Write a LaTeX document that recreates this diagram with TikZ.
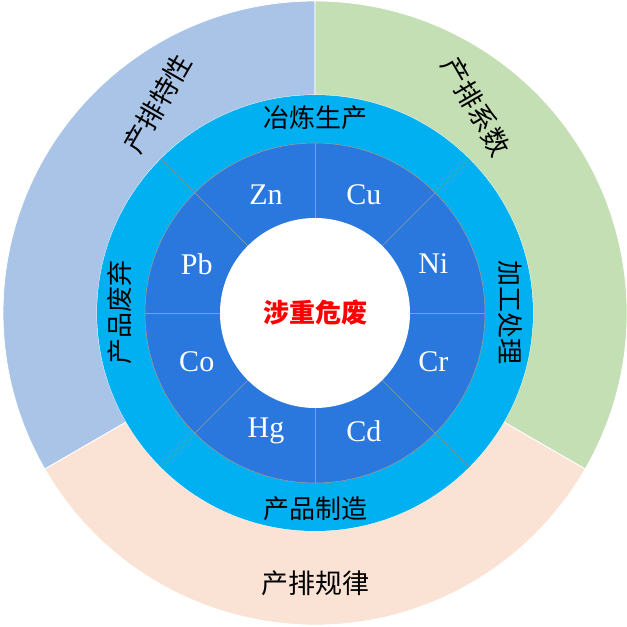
\documentclass[tikz,border=0pt]{standalone}
\usepackage{fontspec}
\setmainfont{Liberation Serif}
\newfontfamily\cjk{Noto Sans CJK SC}
\begin{document}
\begin{tikzpicture}[x=1pt,y=1pt,
  seg/.style={draw=#1,line width=0.6pt},
  elt/.style={text=white,font=\fontsize{30}{32}\selectfont},
  mid/.style={text=black,font=\cjk\fontsize{26}{28}\selectfont},
  outer/.style={text=black,font=\cjk\fontsize{27}{30}\selectfont}]
\definecolor{oblue}{HTML}{A9C4E6}
\definecolor{ogreen}{HTML}{C5DFB4}
\definecolor{opeach}{HTML}{FAE3D5}
\definecolor{mcyan}{HTML}{00B0F0}
\definecolor{idark}{HTML}{2A78DE}
\useasboundingbox (0,0) rectangle (627,627);
\begin{scope}[shift={(315,314)}]
 \fill[oblue,draw=white,line width=0.8pt] (90:312) arc[start angle=90,end angle=210,radius=312] -- (210:218) arc[start angle=210,end angle=90,radius=218] -- cycle;
 \fill[ogreen,draw=white,line width=0.8pt] (-30:312) arc[start angle=-30,end angle=90,radius=312] -- (90:218) arc[start angle=90,end angle=-30,radius=218] -- cycle;
 \fill[opeach,draw=white,line width=0.8pt] (210:312) arc[start angle=210,end angle=330,radius=312] -- (330:218) arc[start angle=330,end angle=210,radius=218] -- cycle;
 \fill[mcyan] (0,0) circle[radius=218];
 \foreach \a in {45,135,225,315}
   \draw[seg=black!45] (\a:170) -- (\a:218);
 \fill[idark] (0,0) circle[radius=170];
 \foreach \a in {0,45,...,315}
   \draw[seg=black!40] (\a:95) -- (\a:170);
 \draw[black!40,line width=0.6pt] (0,0) circle[radius=170];
 \fill[white] (0,0) circle[radius=95];
 \node[elt] (zn) at (112.5:128) {Zn};
 \node[elt] (cu) at (67.5:128) {Cu};
 \node[elt] (ni) at (22.5:128) {Ni};
 \node[elt] (cr) at (-22.5:128) {Cr};
 \node[elt] (cd) at (-67.5:128) {Cd};
 \node[elt] (hg) at (-112.5:128) {Hg};
 \node[elt] (co) at (-157.5:128) {Co};
 \node[elt] (pb) at (157.5:128) {Pb};
 \node[mid] (top) at (90:195) {冶炼生产};
 \node[mid,rotate=-90] (right) at (0:195) {加工处理};
 \node[mid] (bot) at (-90:196) {产品制造};
 \node[mid,rotate=90] (left) at (180:195) {产品废弃};
 \node[outer,rotate=60] (o1) at (127:262) {产排特性};
 \node[outer,rotate=-60] (o2) at (52:262) {产排系数};
 \node[outer] (o3) at (-90:270) {产排规律};
 \node[text=red,font=\cjk\bfseries\fontsize{26}{28}\selectfont] (ctr) at (0,0) {涉重危废};
\end{scope}
\end{tikzpicture}
\end{document}
